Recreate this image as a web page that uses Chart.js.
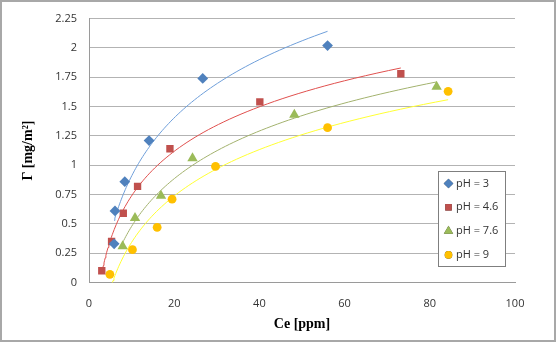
<!DOCTYPE html>
<html>
<head>
<meta charset="utf-8">
<script src="https://cdn.jsdelivr.net/npm/chart.js@4.4.1/dist/chart.umd.min.js"></script>
<style>
  html, body { margin: 0; padding: 0; background: #fff; }
  #wrap { width: 557px; height: 343px; position: relative; }
</style>
</head>
<body>
<div id="wrap"><canvas id="chart" width="557" height="343"></canvas></div>
<script>
// values
var seriesLabels = ['pH = 3', 'pH = 4.6', 'pH = 7.6', 'pH = 9'];

var ce_pH3 = [5.9, 6.1, 8.4, 14.1, 26.7, 56.0];
var gamma_pH3 = [0.33, 0.61, 0.86, 1.21, 1.74, 2.02];

var ce_pH46 = [3.0, 5.3, 8.05, 11.4, 19.0, 40.1, 73.2];
var gamma_pH46 = [0.10, 0.35, 0.59, 0.82, 1.14, 1.54, 1.78];

var ce_pH76 = [7.9, 10.8, 16.9, 24.3, 48.2, 81.6];
var gamma_pH76 = [0.31, 0.55, 0.74, 1.06, 1.43, 1.67];

var ce_pH9 = [4.9, 10.2, 16.0, 19.5, 29.7, 56.0, 84.3];
var gamma_pH9 = [0.07, 0.28, 0.47, 0.71, 0.99, 1.32, 1.63];

var xTicks = [0, 20, 40, 60, 80, 100];
var yTicks = [0, 0.25, 0.5, 0.75, 1, 1.25, 1.5, 1.75, 2, 2.25];

var markerColors = ['#4F81BD', '#C0504D', '#9BBB59', '#FFC000'];
var trendColors = ['#6F9FDA', '#E0504E', '#A3B26E', '#FFFF33'];
var markerStyles = ['rectRot', 'rect', 'triangle', 'circle'];
var markerSizes = [5.4, 5.2, 6, 4.4];

function toPoints(xs, ys) {
    return xs.map(function (x, i) { return { x: x, y: ys[i] }; });
}

// logarithmic trendline (least squares on ln x), like the spreadsheet does
function logTrend(xs, ys) {
    var n = xs.length, sl = 0, sy = 0, sll = 0, sly = 0;
    for (var i = 0; i < n; i++) {
        var l = Math.log(xs[i]);
        sl += l; sy += ys[i]; sll += l * l; sly += l * ys[i];
    }
    var a = (n * sly - sl * sy) / (n * sll - sl * sl);
    var b = (sy - a * sl) / n;
    var x0 = Math.min.apply(null, xs), x1 = Math.max.apply(null, xs);
    var pts = [];
    for (var k = 0; k <= 80; k++) {
        var x = x0 * Math.pow(x1 / x0, k / 80);
        pts.push({ x: x, y: a * Math.log(x) + b });
    }
    return pts;
}

var series = [
    toPoints(ce_pH3, gamma_pH3),
    toPoints(ce_pH46, gamma_pH46),
    toPoints(ce_pH76, gamma_pH76),
    toPoints(ce_pH9, gamma_pH9)
];
var trends = [
    logTrend(ce_pH3, gamma_pH3),
    logTrend(ce_pH46, gamma_pH46),
    logTrend(ce_pH76, gamma_pH76),
    logTrend(ce_pH9, gamma_pH9)
];

var datasets = [];
series.forEach(function (pts, i) {
    datasets.push({
        label: seriesLabels[i],
        data: pts,
        pointStyle: markerStyles[i],
        pointRadius: markerSizes[i],
        pointBackgroundColor: markerColors[i],
        pointBorderColor: markerColors[i],
        pointBorderWidth: 0,
        showLine: false
    });
});
trends.forEach(function (pts, i) {
    datasets.push({
        label: 'trend ' + seriesLabels[i],
        data: pts,
        showLine: true,
        borderColor: trendColors[i],
        borderWidth: 1,
        pointRadius: 0,
        tension: 0
    });
});

var tickFont = { family: 'Open Sans', size: 11 };
var titleFont = { family: 'Liberation Serif', size: 14, weight: 'bold' };

// legend box inside the plot + outer frame
var boxLegend = {
    id: 'boxLegend',
    afterDraw: function (chart) {
        var ctx = chart.ctx;
        var x = 438, y = 171, w = 67, h = 95;
        ctx.save();
        ctx.fillStyle = '#fff';
        ctx.fillRect(x, y, w, h);
        ctx.strokeStyle = '#7f7f7f';
        ctx.lineWidth = 1;
        ctx.strokeRect(x + 0.5, y + 0.5, w, h);
        ctx.font = '11px "Open Sans"';
        ctx.textBaseline = 'middle';
        ctx.fillStyle = '#333';
        for (var i = 0; i < 4; i++) {
            var cy = y + 12.5 + i * 23.8;
            Chart.helpers.drawPoint(ctx, {
                pointStyle: markerStyles[i],
                radius: markerSizes[i] - 0.6,
                borderWidth: 0,
                rotation: 0
            }, x + 10.5, cy);
            ctx.fillStyle = markerColors[i];
            ctx.fill();
            ctx.fillStyle = '#333';
            ctx.fillText(seriesLabels[i], x + 18, cy);
        }
        ctx.strokeStyle = '#a8a8a8';
        ctx.lineWidth = 2;
        ctx.strokeRect(1, 1, 554, 340);
        ctx.restore();
    }
};

new Chart(document.getElementById('chart'), {
    type: 'scatter',
    data: { datasets: datasets },
    options: {
        responsive: false,
        animation: false,
        layout: { padding: { left: 0, top: 14, right: 42, bottom: 0 } },
        plugins: {
            legend: { display: false },
            tooltip: { enabled: false }
        },
        scales: {
            x: {
                type: 'linear',
                min: 0,
                max: 100,
                afterBuildTicks: function (scale) {
                    scale.ticks = xTicks.map(function (v) { return { value: v }; });
                },
                afterFit: function (scale) { scale.height = 60.5; },
                grid: { display: false, drawTicks: false },
                border: { display: true, color: '#9a9a9a', width: 1 },
                ticks: { font: tickFont, color: '#333', padding: 15, maxRotation: 0 },
                title: {
                    display: true,
                    text: 'Ce [ppm]',
                    font: titleFont,
                    color: '#000',
                    padding: { top: 0, bottom: 10 }
                }
            },
            y: {
                type: 'linear',
                min: 0,
                max: 2.25,
                afterBuildTicks: function (scale) {
                    scale.ticks = yTicks.map(function (v) { return { value: v }; });
                },
                afterFit: function (scale) { scale.width = 89; },
                grid: { color: '#b3b3b3', drawTicks: false },
                border: { display: true, color: '#9a9a9a', width: 1 },
                ticks: {
                    font: tickFont,
                    color: '#333',
                    padding: 12,
                    callback: function (v) { return String(v); }
                },
                title: {
                    display: true,
                    text: 'Γ [mg/m²]',
                    font: titleFont,
                    color: '#000',
                    padding: { top: 20, bottom: 0 }
                }
            }
        }
    },
    plugins: [boxLegend]
});
</script>
</body>
</html>
